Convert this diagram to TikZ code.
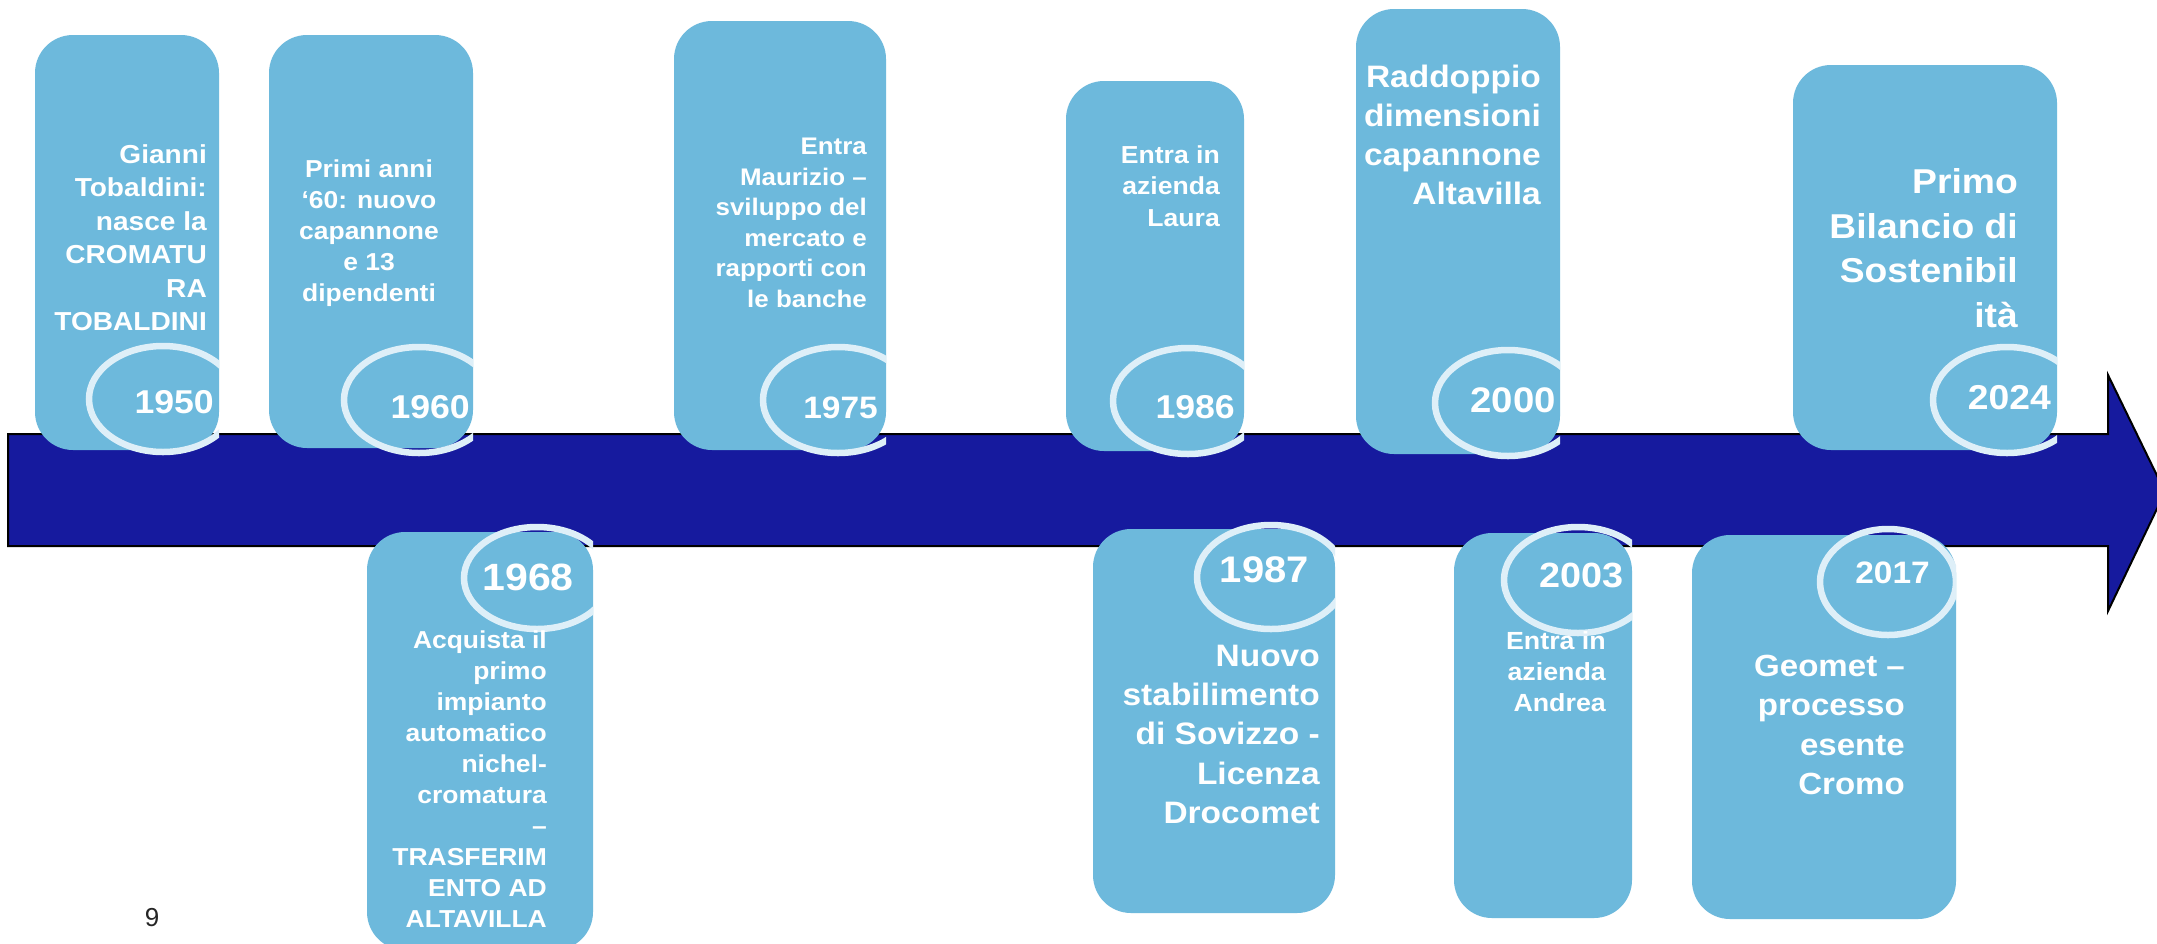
\documentclass[tikz,border=0pt]{standalone}
\usepackage{fontspec}
\setmainfont{Liberation Sans}
\newfontfamily\wfont{Liberation Sans}[FakeStretch=1.08]
\definecolor{boxblue}{RGB}{109,185,220}
\definecolor{arrowblue}{RGB}{22,26,158}
\definecolor{ringc}{RGB}{222,239,248}
\tikzset{
  evbox/.style={fill=boxblue, rounded corners=38pt},
  yring/.style={draw=ringc, line width=6.5pt},
  evtext/.style={text=white, inner sep=0pt, align=right, anchor=north east},
  yeartext/.style={text=white, inner sep=0pt, anchor=base east},
}
\newcommand\fsz[2]{\fontsize{#1}{#2}\selectfont\wfont\bfseries}
% ring: cx, cy, rx, ry, clip xl, clip xr, clip y1, clip y2
\newcommand\yearring[8]{%
  \begin{scope}
    \clip (#5,#7) rectangle (#6,#8);
    \draw[yring] (#1,#2) ellipse [x radius=#3pt, y radius=#4pt];
  \end{scope}}
\begin{document}
\begin{tikzpicture}[x=1pt,y=-1pt]
\useasboundingbox (0,0) rectangle (2157,943);
\fill[white] (0,0) rectangle (2157,943);
% timeline arrow
\draw[fill=arrowblue, draw=black, line width=2pt]
  (8,434) -- (2108,434) -- (2108,375) -- (2165,492) -- (2108,611) -- (2108,546) -- (8,546) -- cycle;
% top boxes
\fill[evbox] (35,35) rectangle (219,450);
\fill[evbox] (269,35) rectangle (473,448);
\fill[evbox] (674,21) rectangle (886,450);
\fill[evbox] (1066,81) rectangle (1244,451);
\fill[evbox] (1356,9) rectangle (1560,454);
\fill[evbox] (1793,65) rectangle (2057,450);
% bottom boxes
\fill[evbox] (367,532) rectangle (593,950);
\fill[evbox] (1093,529) rectangle (1335,913);
\fill[evbox] (1454,533) rectangle (1632,918);
\fill[evbox] (1692,535) rectangle (1956,919);
% rings
\yearring{163}{399}{74}{53}{35}{219}{300}{470}
\yearring{419}{400}{75}{53}{269}{473}{300}{470}
\yearring{838}{400}{75}{53}{674}{886}{300}{470}
\yearring{1188}{401}{75}{53}{1066}{1244}{300}{470}
\yearring{1508}{403}{73}{53}{1356}{1560}{300}{470}
\yearring{2007}{400}{74}{53}{1793}{2057}{300}{470}
\yearring{537}{578}{73}{51}{367}{593}{510}{680}
\yearring{1271}{577}{74}{52}{1093}{1335}{510}{680}
\yearring{1578}{580}{74}{53}{1454}{1632}{510}{680}
\yearring{1888}{582}{68}{53}{1692}{1956}{510}{680}
% event texts
\node[evtext, font=\fsz{26}{33.5}] (t1950) at (207,144.3) {Gianni\\Tobaldini:\\nasce la\\CROMATU\\RA\\TOBALDINI};
\node[evtext, align=center, anchor=north, font=\fsz{24.5}{31}] (t1960) at (369,159.4) {Primi anni\\‘60: nuovo\\capannone\\e 13\\dipendenti};
\node[evtext, font=\fsz{24}{30.6}] (t1975) at (867,137.7) {Entra\\Maurizio –\\sviluppo del\\mercato e\\rapporti con\\le banche};
\node[evtext, font=\fsz{24.6}{31.5}] (t1986) at (1220,145.3) {Entra in\\azienda\\Laura};
\node[evtext, font=\fsz{31}{39}] (t2000) at (1541,64.7) {Raddoppio\\dimensioni\\capannone\\Altavilla};
\node[evtext, font=\fsz{34.5}{44.7}] (t2024) at (2018,168.2) {Primo\\Bilancio di\\Sostenibil\\ità};
\node[evtext, font=\fsz{24.5}{31}] (t1968) at (547,630.4) {Acquista il\\primo\\impianto\\automatico\\nichel-\\cromatura\\–\\TRASFERIM\\ENTO AD\\ALTAVILLA};
\node[evtext, font=\fsz{31}{39.3}] (t1987) at (1320,644.7) {Nuovo\\stabilimento\\di Sovizzo -\\Licenza\\Drocomet};
\node[evtext, font=\fsz{24.8}{31}] (t2003) at (1606,631.1) {Entra in\\azienda\\Andrea};
\node[evtext, font=\fsz{30.6}{39.3}] (t2017) at (1905,655) {Geomet –\\processo\\esente\\Cromo};
% years
\node[yeartext, font=\fsz{33}{33}] (y1950) at (214,413) {1950};
\node[yeartext, font=\fsz{33}{33}] (y1960) at (470,418) {1960};
\node[yeartext, font=\fsz{31}{31}] (y1975) at (878,418) {1975};
\node[yeartext, font=\fsz{33}{33}] (y1986) at (1235,418) {1986};
\node[yeartext, font=\fsz{35.5}{35.5}] (y2000) at (1556,412) {2000};
\node[yeartext, font=\fsz{34.5}{34.5}] (y2024) at (2051,409) {2024};
\node[yeartext, font=\fsz{38}{38}] (y1968) at (574,590) {1968};
\node[yeartext, font=\fsz{37}{37}] (y1987) at (1309,582) {1987};
\node[yeartext, font=\fsz{35}{35}] (y2003) at (1624,587) {2003};
\node[yeartext, font=\fsz{31}{31}] (y2017) at (1930,583) {2017};
% page number
\node[anchor=base, inner sep=0pt, text=black!85, font=\fontsize{26}{26}\selectfont] (pg) at (152,926) {9};
\end{tikzpicture}
\end{document}
